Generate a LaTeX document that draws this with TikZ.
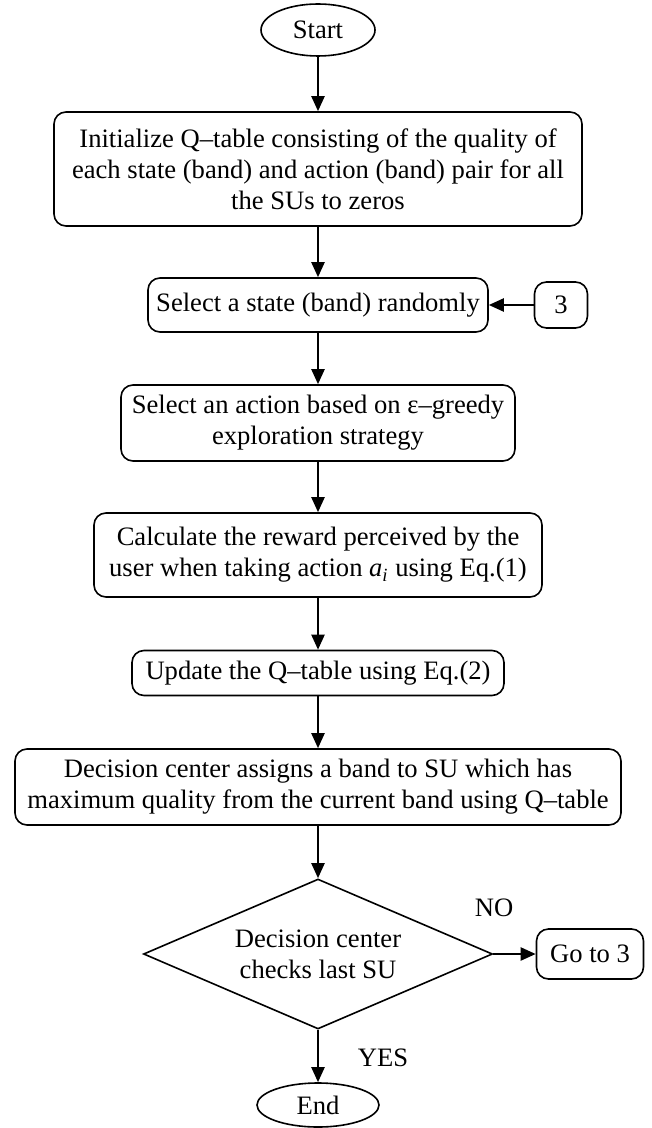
\documentclass[tikz,border=0pt]{standalone}
\usepackage{fontspec}
\setmainfont{Liberation Serif}
\usetikzlibrary{shapes.geometric,arrows.meta}
\begin{document}
\begin{tikzpicture}[x=0.5pt,y=-0.5pt,>={Triangle[length=7.5pt,width=6.5pt]},
  every node/.style={font=\fontsize{13.3}{15.5}\selectfont},
  box/.style={draw,line width=0.8pt,rounded corners=6pt,align=center,inner sep=0pt},
  term/.style={draw,ellipse,line width=0.8pt,inner sep=0pt},
  decide/.style={draw,diamond,aspect=2.33,line width=0.8pt,align=center,inner sep=0pt},
  flow/.style={->,line width=1.1pt}]
\useasboundingbox (0,0) rectangle (652,1128);
% main column
\node[term,minimum width=57pt,minimum height=26pt] (start) at (318,30) {Start};
\node[box,minimum width=264pt,minimum height=57pt] (init) at (318,169) {Initialize Q--table consisting of the quality of\\each state (band) and action (band) pair for all\\the SUs to zeros};
\node[box,minimum width=170pt,minimum height=27pt] (state) at (318,305) {Select a state (band) randomly};
\node[box,minimum width=197pt,minimum height=38pt] (action) at (318,423) {Select an action based on ε--greedy\\exploration strategy};
\node[box,minimum width=224pt,minimum height=42pt] (reward) at (318,555) {Calculate the reward perceived by the\\user when taking action \textit{a}\textsubscript{\textit{i}} using Eq.(1)};
\node[box,minimum width=186pt,minimum height=22.5pt] (update) at (318,673) {Update the Q--table using Eq.(2)};
\node[box,minimum width=303pt,minimum height=38pt] (assign) at (318,787) {Decision center assigns a band to SU which has\\maximum quality from the current band using Q--table};
\node[decide,minimum width=174.5pt,minimum height=75pt] (check) at (318,954) {Decision center\\checks last SU};
\node[term,minimum width=61pt,minimum height=22pt] (end) at (318,1105) {End};
% side boxes
\node[box,minimum width=26.5pt,minimum height=23pt] (three) at (561,305) {3};
\node[box,minimum width=53.5pt,minimum height=25pt] (goto) at (590,954) {Go to 3};
\node (no) at (494,908) {NO};
\node (yes) at (383,1058) {YES};
% connectors
\draw[flow] (start) -- (init);
\draw[flow] (init) -- (state);
\draw[flow] (three) -- (state);
\draw[flow] (state) -- (action);
\draw[flow] (action) -- (reward);
\draw[flow] (reward) -- (update);
\draw[flow] (update) -- (assign);
\draw[flow] (assign) -- (check);
\draw[flow] (check) -- (goto);
\draw[flow] (check) -- (end);
\end{tikzpicture}
\end{document}
